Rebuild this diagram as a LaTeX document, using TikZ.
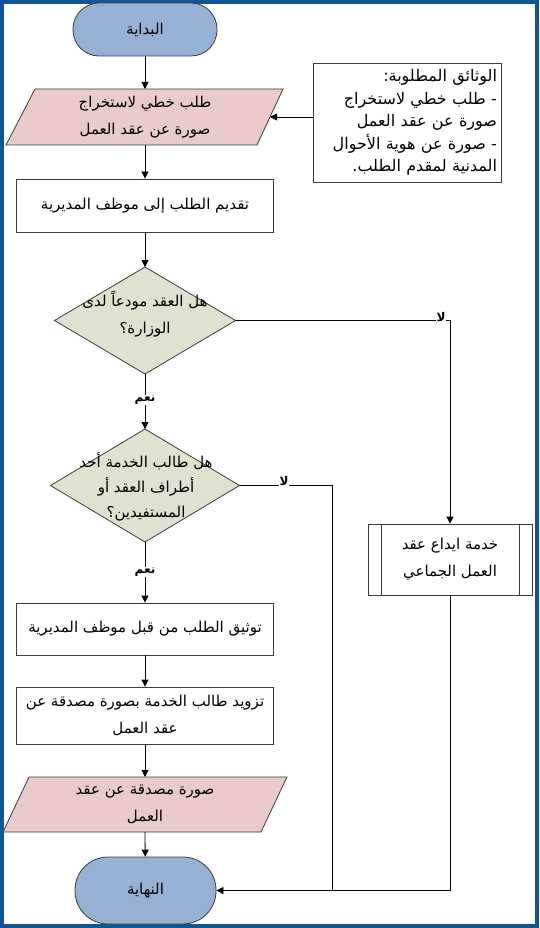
\documentclass[tikz,border=0pt]{standalone}
\usepackage{fontspec}
\usetikzlibrary{shapes.geometric,arrows.meta}
\TeXXeTstate=1
\newfontfamily\arabicfont[Script=Arabic]{DejaVu Sans}
\newfontfamily\arabicbold[Script=Arabic]{DejaVu Sans Bold}
\newcommand\rtl[1]{\beginR #1\endR}
\definecolor{frameblue}{RGB}{14,86,150}
\definecolor{termblue}{RGB}{149,177,212}
\definecolor{iopink}{RGB}{234,202,202}
\definecolor{decgreen}{RGB}{221,227,206}
\definecolor{edgegray}{RGB}{60,60,60}
\begin{document}
\begin{tikzpicture}[x=1pt,y=-1pt,
  shp/.style={draw=edgegray, line width=0.8pt},
  term/.style={shp, fill=termblue, rectangle, inner sep=0pt},
  iobox/.style={shp, fill=iopink},
  decbox/.style={shp, fill=decgreen},
  proc/.style={shp, fill=white, rectangle, inner sep=0pt},
  txt/.style={font=\arabicfont\fontsize{15}{27}\selectfont, align=center, text=black},
  lbl/.style={font=\arabicbold\fontsize{12}{14}\selectfont, fill=white, inner sep=1pt, text=black},
  arr/.style={draw=black, line width=0.8pt, -{Triangle[length=7pt,width=7pt]}},
  conn/.style={draw=black, line width=0.8pt}]
\useasboundingbox (0,0) rectangle (539,928);
\fill[frameblue] (0,0) rectangle (539,928);
\fill[white] (4,4) rectangle (535,924);

% start
\node[term, txt, rounded corners=26pt, minimum width=144pt, minimum height=53pt] (start) at (145,29.5) {\rtl{البداية}};

% input parallelogram 1
\draw[iobox] (35,89) -- (283,89) -- (257,145) -- (6,145) -- cycle;
\coordinate (p1n) at (145,89);
\coordinate (p1s) at (145,145);
\coordinate (p1e) at (270,117);
\node[txt] (p1) at (145,117) {\rtl{طلب خطي لاستخراج}\\\rtl{صورة عن عقد العمل}};

% documents box
\node[proc, txt, font=\arabicfont\fontsize{16}{22.5}\selectfont, align=right, text width=180pt, minimum width=188pt, minimum height=119pt, inner sep=4pt] (docs) at (407,122.5)
  {\rtl{الوثائق المطلوبة:}\\\rtl{- طلب خطي لاستخراج}\\\rtl{صورة عن عقد العمل}\\\rtl{- صورة عن هوية الأحوال}\\\rtl{المدنية لمقدم الطلب.}};

\node[proc, txt, minimum width=257pt, minimum height=53pt] (r1) at (145,205.5) {\rtl{تقديم الطلب إلى موظف المديرية}};

% decision 1
\draw[decbox] (145,267) -- (235.5,320.5) -- (145,374) -- (54.5,320.5) -- cycle;
\coordinate (d1n) at (145,267);
\coordinate (d1e) at (235.5,320.5);
\coordinate (d1s) at (145,374);
\node[txt] (d1) at (145,314) {\rtl{هل العقد مودعاً لدى}\\\rtl{الوزارة؟}};

% decision 2
\draw[decbox] (145,429) -- (239.5,485.5) -- (145,542) -- (50.5,485.5) -- cycle;
\coordinate (d2n) at (145,429);
\coordinate (d2e) at (239.5,485.5);
\coordinate (d2s) at (145,542);
\node[txt, font=\arabicfont\fontsize{15}{25}\selectfont] (d2) at (146,487) {\rtl{هل  طالب الخدمة أحد}\\\rtl{أطراف العقد أو}\\\rtl{المستفيدين؟}};

% predefined process
\node[proc, txt, minimum width=164pt, minimum height=71pt] (sub) at (450,559.5) {\rtl{خدمة ايداع عقد}\\\rtl{العمل الجماعي}};
\draw[shp] ([xshift=14pt]sub.north west) -- ([xshift=14pt]sub.south west);
\draw[shp] ([xshift=-13pt]sub.north east) -- ([xshift=-13pt]sub.south east);

\node[proc, txt, minimum width=257pt, minimum height=52pt] (r2) at (145,629) {\rtl{توثيق الطلب من قبل موظف المديرية}};
\node[proc, txt, minimum width=257pt, minimum height=57pt] (r3) at (145,715.5) {\rtl{تزويد طالب الخدمة بصورة مصدقة عن}\\\rtl{عقد العمل}};

% output parallelogram 2
\draw[iobox] (29,777) -- (287,777) -- (261,832) -- (3,832) -- cycle;
\coordinate (p2n) at (145,777);
\coordinate (p2s) at (145,832);
\node[txt] (p2) at (145,804.5) {\rtl{صورة مصدقة عن عقد}\\\rtl{العمل}};

% end
\node[term, txt, rounded corners=33pt, minimum width=141pt, minimum height=67pt] (end) at (145.5,890.5) {\rtl{النهاية}};

% routing coordinates
\coordinate (c1) at (sub.north |- d1e);
\coordinate (c2) at (332,485.5);
\coordinate (c3) at (c2 |- end.east);
\coordinate (c4) at (sub.south |- end.east);

% connectors
\draw[arr] (start) -- (p1n);
\draw[arr] (docs.west |- p1e) -- (p1e);
\draw[arr] (p1s) -- (r1);
\draw[arr] (r1) -- (d1n);
\draw[arr] (d1e) -- (c1) -- (sub.north);
\draw[arr] (d1s) -- (d2n);
\draw[conn] (d2e) -- (c2) -- (c3);
\draw[arr] (sub.south) -- (c4) -- (end.east);
\draw[arr] (d2s) -- (r2);
\draw[arr] (r2) -- (r3);
\draw[arr] (r3) -- (p2n);
\draw[arr] (p2s) -- (end);

% labels
\node[lbl] (no1) at (441,317) {\rtl{لا}};
\node[lbl] (no2) at (284,481) {\rtl{لا}};
\node[lbl] (yes1) at (145,400) {\rtl{نعم}};
\node[lbl] (yes2) at (145,572) {\rtl{نعم}};
\end{tikzpicture}
\end{document}
